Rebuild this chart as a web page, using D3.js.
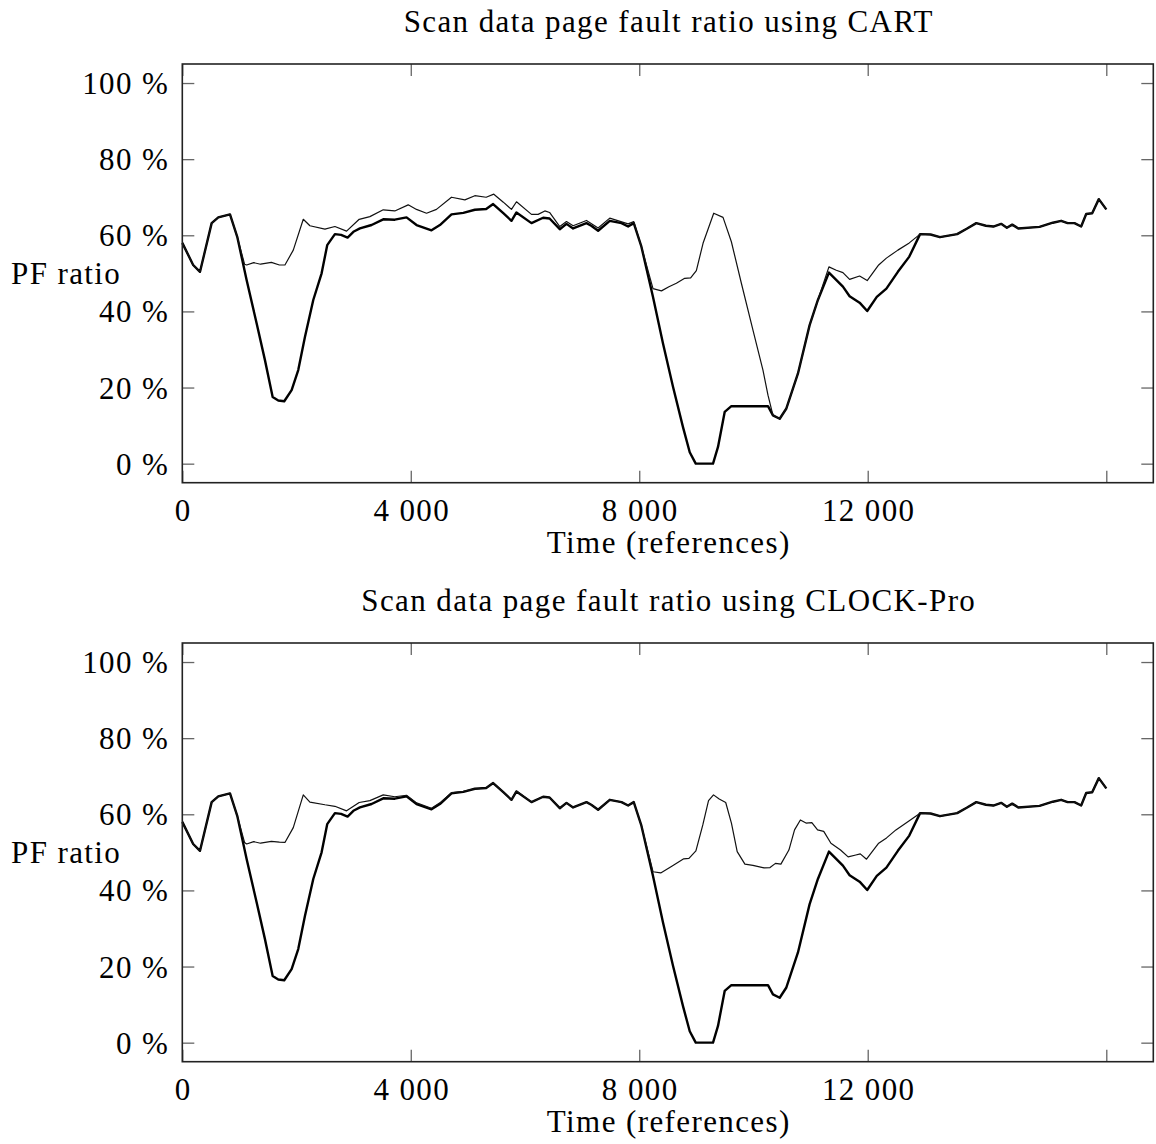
<!DOCTYPE html>
<html>
<head>
<meta charset="utf-8">
<script src="https://cdn.jsdelivr.net/npm/d3@7"></script>
<style>
  html, body { margin: 0; padding: 0; background: #fff; }
  svg { display: block; }
  text { font-family: "Liberation Serif", "Times New Roman", serif; fill: #000; letter-spacing: 1.4px; }
</style>
</head>
<body>
<div id="chart"></div>
<script>
// ---------- DATA ----------
const panelTitles = ["Scan data page fault ratio using CART", "Scan data page fault ratio using CLOCK-Pro"];
const xAxisLabel = "Time (references)";
const yAxisLabel = "PF ratio";
const xTickValues = [0, 4000, 8000, 12000, 16177];
const xTickLabels = ["0", "4 000", "8 000", "12 000", ""];
const yTickValues = [0, 20, 40, 60, 80, 100];
const yTickLabels = ["0 %", "20 %", "40 %", "60 %", "80 %", "100 %"];

// Thick line (same in both panels): [time, PF ratio %]
const thickRatio = [
  [0,58.0],[190,52.2],[310,50.4],[514,63.2],[630,64.7],[835,65.5],[962,59.6],[1127,48.2],[1302,36.8],
  [1447,27.2],[1582,17.5],[1680,16.6],[1785,16.4],[1914,19.3],[2030,24.6],[2147,33.3],[2293,43],[2439,50],
  [2537,57.4],[2672,60.3],[2780,60.1],[2894,59.4],[3004,61],[3110,61.8],[3314,62.7],[3518,64.2],[3720,64.1],
  [3926,64.7],[4101,62.7],[4363,61.3],[4510,62.7],[4713,65.5],[4920,65.9],[5122,66.7],[5320,66.9],[5442,68.2],
  [5620,65.8],[5763,63.8],[5850,66],[6113,63.2],[6317,64.6],[6430,64.4],[6609,61.6],[6726,63],[6842,61.8],
  [7076,63.2],[7160,62.5],[7280,61.2],[7484,63.8],[7690,63.2],[7805,62.3],[7904,63.2],[8038,57],[8241,43.8],
  [8416,31.6],[8591,20.2],[8766,9.6],[8884,3.0],[8989,0],[9292,0],[9379,4.4],[9496,13.6],[9613,15.1],
  [10254,15.1],[10341,12.7],[10459,11.8],[10576,14.5],[10779,23.7],[10983,36.4],[11128,43],[11321,50.2],
  [11566,46.5],[11683,44],[11858,42.3],[11991,40.1],[12159,43.8],[12327,46],[12528,50.4],[12728,54.4],
  [12917,60.3],[13100,60.2],[13265,59.5],[13566,60.3],[13733,61.7],[13901,63.2],[14069,62.5],[14200,62.3],
  [14336,63],[14436,62],[14530,62.8],[14637,61.8],[15008,62.2],[15241,63.3],[15387,63.8],[15500,63.2],
  [15620,63.2],[15737,62.3],[15825,65.6],[15930,65.8],[16046,69.5],[16177,66.8]
];

// Thin line, CART panel
const cartRatio = [
  [0,58.0],[190,52.2],[310,50.4],[514,63.2],[630,64.7],[835,65.5],[962,59.6],[1090,52.4],[1127,52.2],
  [1250,52.8],[1370,52.4],[1560,52.9],[1700,52.2],[1797,52.2],[1943,56.1],[2118,64.2],[2234,62.5],[2497,61.6],
  [2672,62.3],[2876,61.1],[3097,64.2],[3284,64.9],[3518,66.7],[3720,66.4],[3955,68],[4100,66.8],[4276,65.8],
  [4450,66.8],[4713,70],[4947,69.3],[5122,70.4],[5320,70],[5454,70.8],[5620,68.7],[5763,66.8],[5851,68.8],
  [6113,65.5],[6230,65.5],[6347,66.4],[6430,66],[6609,62.3],[6726,63.6],[6842,62.5],[7076,63.9],[7280,61.9],
  [7484,64.5],[7805,63],[7904,63.6],[8038,57],[8241,46],[8389,45.4],[8520,46.5],[8650,47.4],[8796,48.7],
  [8900,48.8],[9000,50.7],[9117,57.9],[9304,65.8],[9467,64.7],[9613,58.3],[9788,47.4],[9991,35.1],
  [10166,24.6],[10254,18],[10341,12.7],[10459,11.8],[10576,14.5],[10779,23.7],[10983,36.4],[11128,43],
  [11321,51.7],[11450,50.8],[11566,50.2],[11683,48.4],[11858,49.3],[11991,48.1],[12192,52.2],[12327,54],
  [12528,56.1],[12728,58],[12917,60.3],[13100,60.2],[13265,59.5],[13566,60.3],[13733,61.7],[13901,63.2],
  [14069,62.5],[14200,62.3],[14336,63],[14436,62],[14530,62.8],[14637,61.8],[15008,62.2],[15241,63.3],
  [15387,63.8],[15500,63.2],[15620,63.2],[15737,62.3],[15825,65.6],[15930,65.8],[16046,69.5],[16177,66.8]
];

// Thin line, CLOCK-Pro panel
const clockProRatio = [
  [0,58.0],[190,52.2],[310,50.4],[514,63.2],[630,64.7],[835,65.5],[962,59.6],[1090,52.6],[1127,52.2],
  [1250,52.8],[1370,52.4],[1560,52.9],[1700,52.7],[1797,52.6],[1943,56.5],[2118,65.1],[2234,63.2],[2497,62.5],
  [2672,62.1],[2876,60.9],[3097,63.1],[3284,63.6],[3518,65.1],[3720,64.6],[3926,65],[4101,63],[4363,61.6],
  [4510,63],[4713,65.7],[4920,66],[5122,66.7],[5320,66.9],[5442,68.3],[5620,65.8],[5763,63.8],[5850,66.1],
  [6113,63.2],[6317,64.6],[6430,64.4],[6609,61.6],[6726,63],[6842,61.8],[7076,63.2],[7160,62.5],[7280,61.2],
  [7484,63.8],[7690,63.2],[7805,62.3],[7904,63.2],[8038,57],[8241,44.9],[8376,44.6],[8577,46.4],[8779,48.3],
  [8870,48.4],[8992,50.4],[9113,57.2],[9213,63.6],[9300,65.1],[9400,64],[9514,63.1],[9615,57.6],[9715,50.2],
  [9850,46.9],[9990,46.6],[10184,45.9],[10290,46],[10385,47.1],[10480,46.9],[10620,50.6],[10719,55.9],
  [10821,58.5],[10920,57.7],[11022,57.8],[11122,55.9],[11230,55.5],[11356,52.4],[11524,50.6],[11657,48.8],
  [11792,49.3],[11870,49.6],[11979,48.2],[12192,52.4],[12330,53.8],[12494,55.9],[12728,58.3],[12917,60.3],
  [13100,60.2],[13265,59.5],[13566,60.3],[13733,61.7],[13901,63.2],[14069,62.5],[14200,62.3],[14336,63],
  [14436,62],[14530,62.8],[14637,61.8],[15008,62.2],[15241,63.3],[15387,63.8],[15500,63.2],[15620,63.2],
  [15737,62.3],[15825,65.6],[15930,65.8],[16046,69.5],[16177,66.8]
];

const thinSeries = [cartRatio, clockProRatio];

// ---------- LAYOUT ----------
const W = 1156, H = 1144;
const plotLeft = 182.3, plotRight = 1153.3;
const panelTop = [64, 643], plotH = 418.7;
const fs = 31;

const svg = d3.select("#chart").append("svg").attr("width", W).attr("height", H);

const x = d3.scaleLinear().domain([0, 17000]).range([plotLeft, plotRight]);

panelTitles.forEach((title, i) => {
  const top = panelTop[i], bottom = top + plotH;
  const y = d3.scaleLinear().domain([-5, 105]).range([bottom, top]);
  const g = svg.append("g");

  // Title
  g.append("text").attr("x", (plotLeft + plotRight) / 2 + 1).attr("y", top - 32)
    .attr("text-anchor", "middle").style("font-size", fs + "px").text(title);

  // Ticks (inward, on all four sides) via d3 axes
  const tickLen = 12;
  const bottomAxis = d3.axisTop(x).tickValues(xTickValues).tickSize(tickLen).tickFormat("");
  const topAxis = d3.axisBottom(x).tickValues(xTickValues).tickSize(tickLen).tickFormat("");
  const leftAxis = d3.axisRight(y).tickValues(yTickValues).tickSize(tickLen).tickFormat("");
  const rightAxis = d3.axisLeft(y).tickValues(yTickValues).tickSize(tickLen).tickFormat("");
  [[bottomAxis, `translate(0,${bottom})`], [topAxis, `translate(0,${top})`],
   [leftAxis, `translate(${plotLeft},0)`], [rightAxis, `translate(${plotRight},0)`]].forEach(([ax, tr]) => {
    const a = g.append("g").attr("transform", tr).call(ax);
    a.select(".domain").remove();
    a.selectAll(".tick line").attr("stroke", "#666").attr("stroke-width", 1.3);
  });

  // Tick labels
  g.selectAll(".xl").data(xTickValues).enter().append("text")
    .attr("x", d => x(d) + 1).attr("y", bottom + 38).attr("text-anchor", "middle")
    .style("font-size", fs + "px").text((d, k) => xTickLabels[k]);
  g.selectAll(".yl").data(yTickValues).enter().append("text")
    .attr("x", plotLeft - 13).attr("y", d => y(d) + 11).attr("text-anchor", "end")
    .style("font-size", fs + "px").text((d, k) => yTickLabels[k]);

  // Axis labels
  g.append("text").attr("x", (plotLeft + plotRight) / 2 + 1).attr("y", bottom + 70)
    .attr("text-anchor", "middle").style("font-size", fs + "px").text(xAxisLabel);
  g.append("text").attr("x", 11).attr("y", top + 220)
    .attr("text-anchor", "start").style("font-size", fs + "px").text(yAxisLabel);

  // Lines
  const line = d3.line().x(d => x(d[0])).y(d => y(d[1]));
  g.append("path").datum(thickRatio).attr("d", line)
    .attr("fill", "none").attr("stroke", "#000").attr("stroke-width", 2.4).attr("stroke-linejoin", "round");
  g.append("path").datum(thinSeries[i]).attr("d", line)
    .attr("fill", "none").attr("stroke", "#111").attr("stroke-width", 1.2).attr("stroke-linejoin", "round");

  // Frame
  g.append("rect").attr("x", plotLeft).attr("y", top).attr("width", plotRight - plotLeft).attr("height", plotH)
    .attr("fill", "none").attr("stroke", "#222").attr("stroke-width", 1.6);
});
</script>
</body>
</html>
